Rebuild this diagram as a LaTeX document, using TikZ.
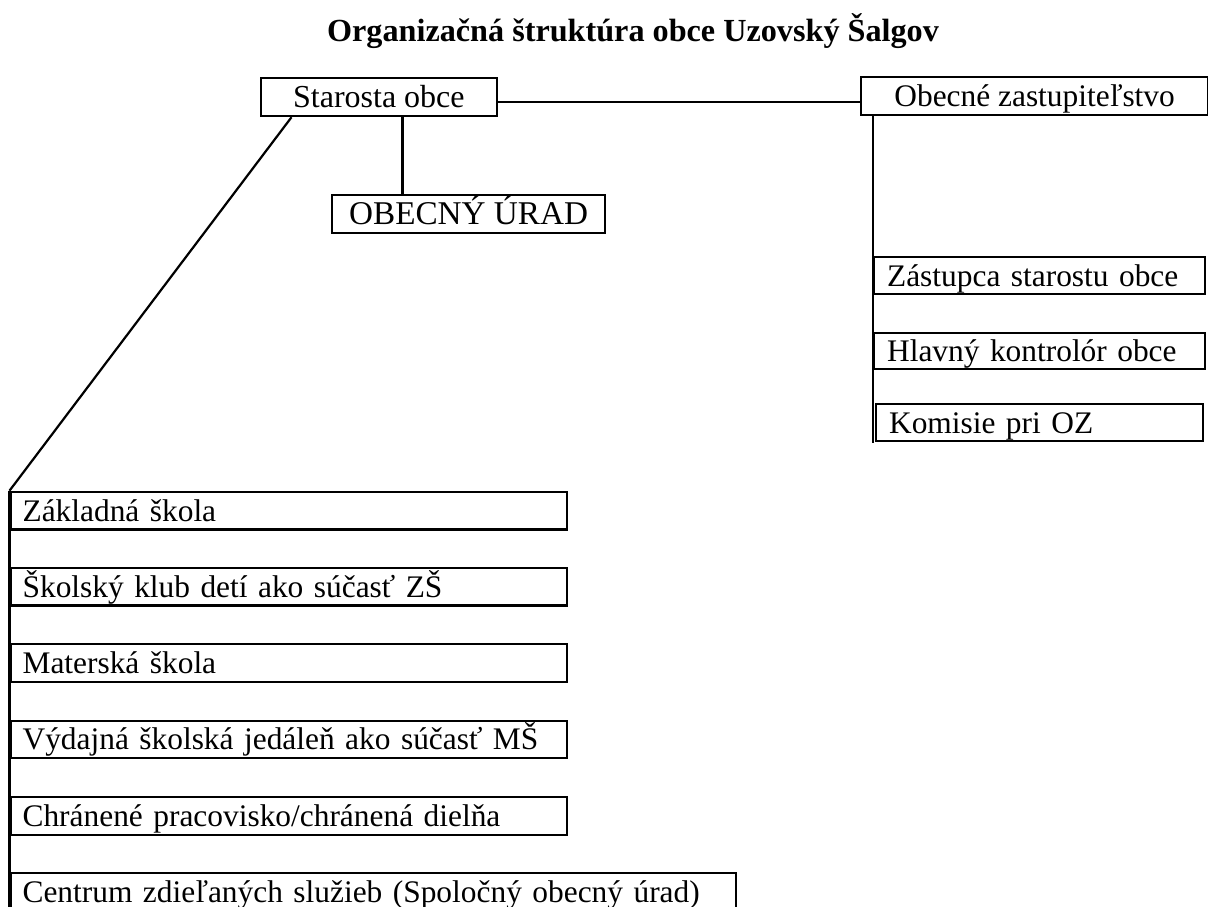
\documentclass[tikz,border=0pt]{standalone}
\usepackage{fontspec}
\setmainfont{Liberation Serif}
\begin{document}
\begin{tikzpicture}[x=0.5pt,y=-0.5pt,
  box/.style={draw, line width=1.1pt, inner ysep=0pt, anchor=north west,
    font=\fontsize{15.7}{19}\selectfont, text height=14pt, text depth=3.5pt},
  cbox/.style={box, align=center, inner xsep=0pt, minimum height=19pt},
  lbox/.style={box, align=left, inner xsep=6pt, minimum height=18.8pt, text width=#1},
  conn/.style={line width=1.1pt}]
\useasboundingbox (0,0) rectangle (1208,906);
\clip (0,0) rectangle (1208,906);

\node[font=\bfseries\fontsize{16.1}{19}\selectfont, anchor=base] (title) at (633,41)
  {Organizačná štruktúra obce Uzovský Šalgov};

\node[cbox, minimum width=118.25pt, font=\fontsize{16}{19}\selectfont] (star) at (259.5,77) {Starosta obce};
\node[cbox, minimum width=136.5pt, font=\fontsize{16.6}{19}\selectfont] (ou) at (331,194) {OBECNÝ ÚRAD};
\node[cbox, minimum width=173.5pt] (oz) at (860,76) {Obecné zastupiteľstvo};

\node[lbox=152.5pt, inner xsep=6.5pt, minimum height=18.5pt] (zast) at (873,256) {Zástupca starostu obce};
\node[lbox=152.5pt, inner xsep=6.5pt, minimum height=18pt] (kontr) at (873,332) {Hlavný kontrolór obce};
\node[lbox=150.5pt, inner xsep=6.5pt, minimum height=18.5pt] (kom) at (875,403) {Komisie pri OZ};

\node[lbox=266.25pt] (zs) at (9.5,490.7) {Základná škola};
\node[lbox=266.25pt] (skd) at (9.5,566.7) {Školský klub detí ako súčasť ZŠ};
\node[lbox=266.25pt] (ms) at (9.5,643) {Materská škola};
\node[lbox=266.25pt] (vsj) at (9.5,719.5) {Výdajná školská jedáleň ako súčasť MŠ};
\node[lbox=266.25pt] (chp) at (9.5,796) {Chránené pracovisko/chránená dielňa};
\node[lbox=350.75pt] (czs) at (9.5,871.7) {Centrum zdieľaných služieb (Spoločný obecný úrad)};

\coordinate (lb) at (9.5,915);
\coordinate (rb) at (873,443);

\draw[conn] ([yshift=-2.5pt]star.east) -- ([yshift=-2.5pt]star.east -| oz.west);
\draw[conn] ([xshift=11.85pt]star.south) -- ([xshift=11.85pt]star.south |- ou.north);
\draw[conn] ([xshift=16pt]star.south west) -- (zs.north west);
\draw[conn] (zs.north west) -- (lb);
\draw[conn] ([xshift=6.5pt]oz.south west) -- (rb);
\end{tikzpicture}
\end{document}
